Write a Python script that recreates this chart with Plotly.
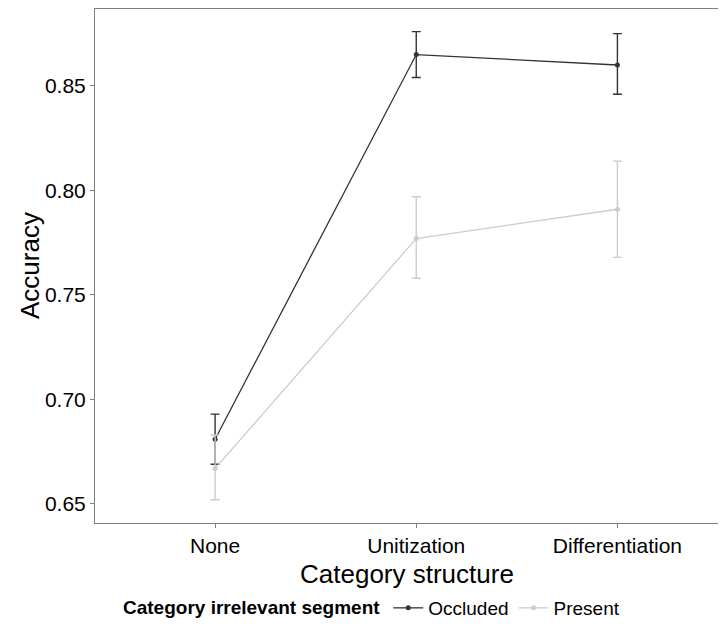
import plotly.graph_objects as go

categories = ["None", "Unitization", "Differentiation"]
occ_mean = [0.681, 0.865, 0.860]
occ_upper = [0.693, 0.876, 0.875]
occ_lower = [0.669, 0.854, 0.846]
pres_mean = [0.667, 0.777, 0.791]
pres_upper = [0.683, 0.797, 0.814]
pres_lower = [0.652, 0.758, 0.768]
y_ticks = [0.65, 0.70, 0.75, 0.80, 0.85]

FONT = "Liberation Sans, Arial, sans-serif"
OCC_COL = "#333333"
PRES_COL = "#cccccc"

# plot area in figure px (page body has an 8px offset)
L, R, T, B = 87, 710, 1, 515
PW, PH = R - L, B - T

fig = go.Figure()

def add_series(name, mean, upper, lower, color):
    fig.add_trace(go.Scatter(
        x=categories, y=mean, name=name, mode="lines+markers",
        line=dict(color=color, width=1.3),
        marker=dict(color=color, size=5),
        error_y=dict(type="data", symmetric=False,
                     array=[u - m for u, m in zip(upper, mean)],
                     arrayminus=[m - l for m, l in zip(mean, lower)],
                     color=color, thickness=1.4, width=4.5),
    ))

add_series("Occluded", occ_mean, occ_upper, occ_lower, OCC_COL)
add_series("Present", pres_mean, pres_upper, pres_lower, PRES_COL)

fig.update_layout(
    width=726, height=628,
    margin=dict(l=L, r=726 - R, t=T, b=628 - B, pad=0, autoexpand=False),
    plot_bgcolor="white", paper_bgcolor="white",
    font=dict(family=FONT, color="black"),
    showlegend=True,
    legend=dict(
        orientation="h", x=(365 - L) / PW, xanchor="center",
        y=(B - 600) / PH, yanchor="middle",
        title=dict(text="<b>Category irrelevant segment</b>", side="left",
                   font=dict(size=19, family=FONT)),
        font=dict(size=19, family=FONT),
        itemwidth=30, tracegroupgap=0,
    ),
)

fig.update_xaxes(
    type="category", range=[-0.597, 2.5],
    showline=True, linecolor="#7f7f7f", linewidth=1, mirror=True,
    ticks="outside", ticklen=4, tickcolor="#7f7f7f",
    showgrid=False, zeroline=False,
    tickfont=dict(size=21, color="black", family=FONT),
)
fig.update_yaxes(
    range=[0.6409, 0.8868],
    tickvals=y_ticks, ticktext=[f"{v:.2f}" for v in y_ticks],
    showline=True, linecolor="#7f7f7f", linewidth=1, mirror=True,
    ticks="outside", ticklen=4, tickcolor="#7f7f7f",
    showgrid=False, zeroline=False,
    tickfont=dict(size=21, color="black", family=FONT),
)

fig.add_annotation(text="Accuracy", xref="paper", yref="paper",
                   x=(22 - L) / PW, y=0.5, xanchor="center", yanchor="middle",
                   textangle=-90, showarrow=False,
                   font=dict(size=26, family=FONT, color="black"))
fig.add_annotation(text="Category structure", xref="paper", yref="paper",
                   x=0.5, y=(B - 566) / PH, xanchor="center", yanchor="middle",
                   showarrow=False,
                   font=dict(size=26, family=FONT, color="black"))

fig.write_html("out.html")
